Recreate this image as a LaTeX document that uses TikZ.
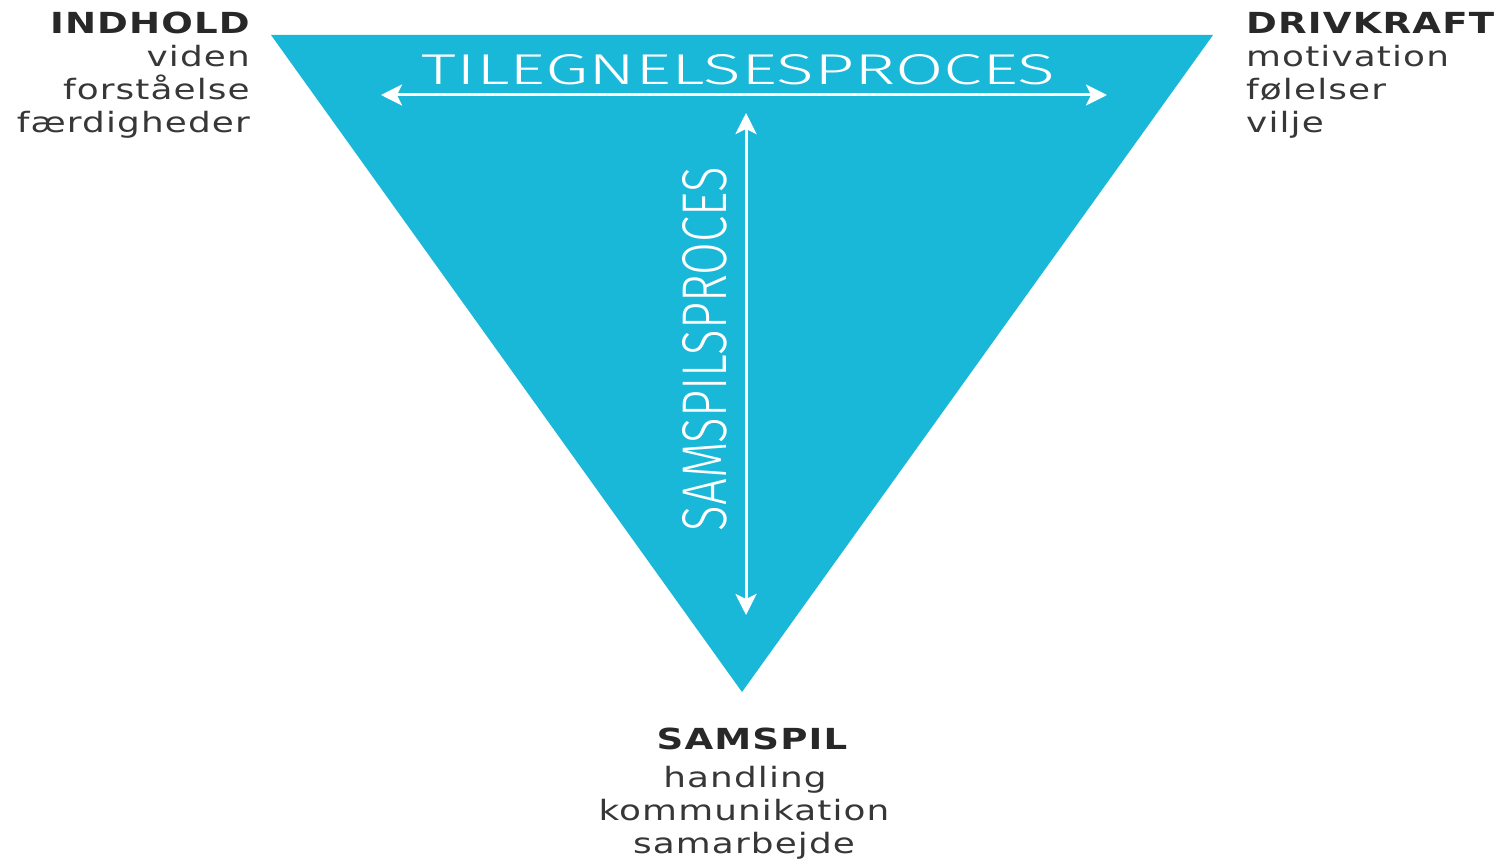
\documentclass[tikz,border=0pt]{standalone}
\usepackage{fontspec}
\usetikzlibrary{arrows.meta}
\setmainfont{DejaVu Sans}
\newfontfamily\lblfont[FakeStretch=1.28,LetterSpace=4]{DejaVu Sans}
\newfontfamily\thinfont{Fira Sans Light}
\definecolor{tri}{RGB}{25,184,216}
\definecolor{headc}{RGB}{40,40,40}
\definecolor{itemc}{RGB}{55,55,55}
\tikzset{
  head/.style={font=\lblfont\bfseries\fontsize{29}{29}\selectfont, text=headc, inner sep=0pt},
  item/.style={font=\lblfont\fontsize{28}{28}\selectfont, text=itemc, inner sep=0pt},
  proc/.style={text=white, inner sep=0pt},
  dblarrow/.style={white, line width=3pt, {Stealth[length=21pt,width=21pt,inset=5pt]}-{Stealth[length=21pt,width=21pt,inset=5pt]}}
}
\begin{document}
\begin{tikzpicture}[x=1pt,y=-1pt]
\useasboundingbox (0,0) rectangle (1501,861);
% triangle
\coordinate (tl) at (271,35);
\coordinate (tr) at (1213,35);
\coordinate (bt) at (742,692);
\fill[tri] (tl) -- (tr) -- (bt) -- cycle;
% arrows
\coordinate (hl) at (381,95);
\coordinate (hr) at (1107,95);
\coordinate (vt) at (746,113);
\coordinate (vb) at (746,615);
\draw[dblarrow] (hl) -- (hr);
\draw[dblarrow] (vt) -- (vb);
% process labels
\node[proc, anchor=south] (tilp) at (738.5,85) {\resizebox{633pt}{30pt}{\thinfont TILEGNELSESPROCES}};
\node[proc, anchor=south, rotate=90] (samp) at (727,349) {\resizebox{364pt}{44pt}{\thinfont SAMSPILSPROCES}};
% INDHOLD
\node[head, anchor=base east] (indh) at (250,34) {INDHOLD};
\node[item, anchor=base east] (ind1) at (250,67) {viden};
\node[item, anchor=base east] (ind2) at (250,100) {forståelse};
\node[item, anchor=base east] (ind3) at (250,133) {færdigheder};
% DRIVKRAFT
\node[head, anchor=base west] (drih) at (1246,34) {DRIVKRAFT};
\node[item, anchor=base west] (dri1) at (1246,67) {motivation};
\node[item, anchor=base west] (dri2) at (1246,100) {følelser};
\node[item, anchor=base west] (dri3) at (1246,133) {vilje};
% SAMSPIL
\node[head, anchor=base] (samh) at (752,749) {SAMSPIL};
\node[item, anchor=base] (sam1) at (745,787) {handling};
\node[item, anchor=base] (sam2) at (744,820) {kommunikation};
\node[item, anchor=base] (sam3) at (744,853) {samarbejde};
\end{tikzpicture}
\end{document}
